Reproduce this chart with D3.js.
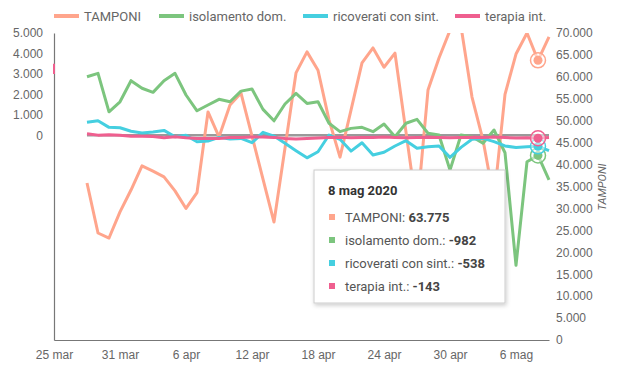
<!DOCTYPE html>
<html>
<head>
<meta charset="utf-8">
<script src="https://cdn.jsdelivr.net/npm/d3@7"></script>
<style>
  body { margin: 0; background: #fff; }
  svg { display: block; font-family: Roboto, "Noto Sans", sans-serif; }
</style>
</head>
<body>
<svg id="chart" width="636" height="380"></svg>
<script>
// daily values, 28 mar -> 9 mag 2020
const startDate = "2020-03-28";
const tamponi = [35800, 24400, 23250, 29200, 34200, 39700, 38500, 37200, 34000, 30000,
  33600, 52000, 46300, 53600, 56300, 46500, 36700, 26900, 43800, 60900,
  65700, 61500, 50200, 41700, 52400, 63200, 66600, 62200, 65400, 47400,
  29400, 57000, 64300, 70600, 71500, 55400, 45600, 32000, 56000, 65200,
  70000, 63775, 69100];
const isolamento = [2860, 3030, 1150, 1640, 2670, 2300, 2100, 2670, 3030, 1970,
  1200, 1480, 1760, 1640, 2160, 2260, 1270, 710, 1530, 2050,
  1560, 1640, 590, 180, 340, 390, 180, 550, -70, 590,
  780, 100, 15, -1700, 15, -70, -390, 260, -850, -6350,
  -1290, -982, -2180];
const ricoverati = [640, 715, 390, 370, 200, 110, 160, 240, -70, 0,
  -310, -280, -100, -180, -150, -360, 145, -35, -390, -750,
  -1100, -800, 15, -195, -770, -360, -960, -830, -520, -260,
  -635, -560, -520, -1075, -590, -195, -150, -310, -520, -590,
  -560, -538, -750];
const terapia = [80, 10, 30, 0, -50, -50, -60, -120, -70, -120,
  -150, -150, -150, -110, -100, -80, -80, -100, -150, -180,
  -150, -130, -100, -90, -120, -110, -100, -80, -100, -120,
  -110, -90, -100, -120, -110, -90, -100, -80, -110, -130,
  -120, -143, -100];

const seriesNames = ["TAMPONI", "isolamento dom.", "ricoverati con sint.", "terapia int."];
const seriesColors = ["#ffa58c", "#7cc57e", "#45cfe0", "#ef5f8f"];
const leftTicks = [0, 1000, 2000, 3000, 4000, 5000];
const rightTicks = [0, 5000, 10000, 15000, 20000, 25000, 30000, 35000, 40000, 45000, 50000, 55000, 60000, 65000, 70000];
const xTickDates = ["2020-03-25", "2020-03-31", "2020-04-06", "2020-04-12", "2020-04-18", "2020-04-24", "2020-04-30", "2020-05-06"];
const hoverDate = "2020-05-08";

const it = d3.formatLocale({ decimal: ",", thousands: ".", grouping: [3], currency: ["€", ""], minus: "-" });
const fmt = it.format(",d");
const itTime = d3.timeFormatLocale({
  dateTime: "%A %e %B %Y, %X", date: "%d/%m/%Y", time: "%H:%M:%S",
  periods: ["AM", "PM"],
  days: ["domenica", "lunedì", "martedì", "mercoledì", "giovedì", "venerdì", "sabato"],
  shortDays: ["dom", "lun", "mar", "mer", "gio", "ven", "sab"],
  months: ["gennaio", "febbraio", "marzo", "aprile", "maggio", "giugno", "luglio", "agosto", "settembre", "ottobre", "novembre", "dicembre"],
  shortMonths: ["gen", "feb", "mar", "apr", "mag", "giu", "lug", "ago", "set", "ott", "nov", "dic"]
});
const parse = d3.utcParse("%Y-%m-%d");
const dates = tamponi.map((_, i) => d3.utcDay.offset(parse(startDate), i));

const svg = d3.select("#chart");
const mLeft = 54, mRight = 549, mTop = 33, mBottom = 340;

const x = d3.scaleUtc()
  .domain([parse("2020-03-25"), parse("2020-05-09")])
  .range([mLeft, mRight]);
const yL = d3.scaleLinear().domain([-10000, 5000]).range([mBottom, mTop]);
const yR = d3.scaleLinear().domain([0, 70000]).range([mBottom, mTop]);

const defs = svg.append("defs");
defs.append("clipPath").attr("id", "plot")
  .append("rect").attr("x", mLeft).attr("y", mTop).attr("width", mRight - mLeft + 4).attr("height", mBottom - mTop);

// axes
const axisText = (g) => g.selectAll("text").attr("fill", "#666").style("font-size", "12px");

svg.append("g")
  .attr("transform", `translate(${mLeft},0)`)
  .call(d3.axisLeft(yL).tickValues(leftTicks).tickFormat(fmt).tickSize(0).tickPadding(11))
  .call((g) => g.select(".domain").attr("stroke", "#777").attr("stroke-width", 1.2))
  .call(axisText);

svg.append("g")
  .attr("transform", `translate(${mRight - 1},0)`)
  .call(d3.axisRight(yR).tickValues(rightTicks).tickFormat(fmt).tickSize(0).tickPadding(8))
  .call((g) => g.select(".domain").remove())
  .call(axisText);

svg.append("g")
  .attr("transform", `translate(0,${mBottom})`)
  .call(d3.axisBottom(x).tickValues(xTickDates.map(parse)).tickFormat(itTime.utcFormat("%-d %b")).tickSize(0).tickPadding(10))
  .call((g) => g.select(".domain").attr("stroke", "#777").attr("stroke-width", 1.2))
  .call(axisText);

svg.append("text")
  .attr("transform", `translate(606,187) rotate(-90)`)
  .attr("text-anchor", "middle")
  .attr("fill", "#666")
  .style("font-size", "11px")
  .style("font-style", "italic")
  .text("TAMPONI");

// small pink marker on left axis
svg.append("line")
  .attr("x1", mLeft).attr("x2", mLeft)
  .attr("y1", yL(3500)).attr("y2", yL(3000))
  .attr("stroke", seriesColors[3]).attr("stroke-width", 2);

const plot = svg.append("g").attr("clip-path", "url(#plot)");

// zero reference line
plot.append("line")
  .attr("x1", x(dates[0])).attr("x2", mRight)
  .attr("y1", yL(0)).attr("y2", yL(0))
  .attr("stroke", "#9a9a9a").attr("stroke-width", 2.5);

const seriesData = [tamponi, isolamento, ricoverati, terapia];
const scales = [yR, yL, yL, yL];

seriesData.forEach((vals, k) => {
  const line = d3.line()
    .x((d, i) => x(dates[i]))
    .y((d) => scales[k](d));
  plot.append("path")
    .datum(vals)
    .attr("fill", "none")
    .attr("stroke", seriesColors[k])
    .attr("stroke-width", 3)
    .attr("stroke-linejoin", "round")
    .attr("d", line);
});

// hover markers
const hi = dates.findIndex((d) => +d === +parse(hoverDate));
seriesData.forEach((vals, k) => {
  const cx = x(dates[hi]), cy = scales[k](vals[hi]);
  svg.append("circle").attr("cx", cx).attr("cy", cy).attr("r", 7.5)
    .attr("fill", "#fff").attr("fill-opacity", 0.5)
    .attr("stroke", seriesColors[k]).attr("stroke-width", 1.5);
  svg.append("circle").attr("cx", cx).attr("cy", cy).attr("r", 4.5)
    .attr("fill", seriesColors[k]);
});

// legend
const legendX = [54, 159, 303, 455];
const legend = svg.append("g");
seriesNames.forEach((n, k) => {
  legend.append("line")
    .attr("x1", legendX[k]).attr("x2", legendX[k] + 25)
    .attr("y1", 16).attr("y2", 16)
    .attr("stroke", seriesColors[k]).attr("stroke-width", 4);
  legend.append("text")
    .attr("x", legendX[k] + 30).attr("y", 16).attr("dy", "0.35em")
    .attr("fill", "#666").style("font-size", "13px")
    .text(n);
});

// tooltip
defs.append("filter").attr("id", "shadow").attr("x", "-10%").attr("y", "-10%").attr("width", "130%").attr("height", "130%")
  .append("feDropShadow").attr("dx", 1).attr("dy", 2).attr("stdDeviation", 2)
  .attr("flood-color", "#000").attr("flood-opacity", 0.2);

const tip = svg.append("g").attr("transform", "translate(314,170)");
tip.append("rect")
  .attr("width", 191).attr("height", 133)
  .attr("fill", "#fff").attr("stroke", "#ccc").attr("stroke-width", 1)
  .attr("filter", "url(#shadow)");
tip.append("text")
  .attr("x", 14).attr("y", 20).attr("dy", "0.35em")
  .attr("fill", "#333").style("font-size", "13px").style("font-weight", "bold")
  .text(itTime.utcFormat("%-d %b %Y")(parse(hoverDate)));
seriesNames.forEach((n, k) => {
  const yy = 47 + k * 23;
  tip.append("rect").attr("x", 15).attr("y", yy - 3).attr("width", 6).attr("height", 6)
    .attr("fill", seriesColors[k]);
  const t = tip.append("text").attr("x", 31).attr("y", yy).attr("dy", "0.35em")
    .attr("fill", "#555").style("font-size", "13px");
  t.append("tspan").text(n + ": ");
  t.append("tspan").style("font-weight", "bold").attr("fill", "#444").text(fmt(seriesData[k][hi]));
});
</script>
</body>
</html>
